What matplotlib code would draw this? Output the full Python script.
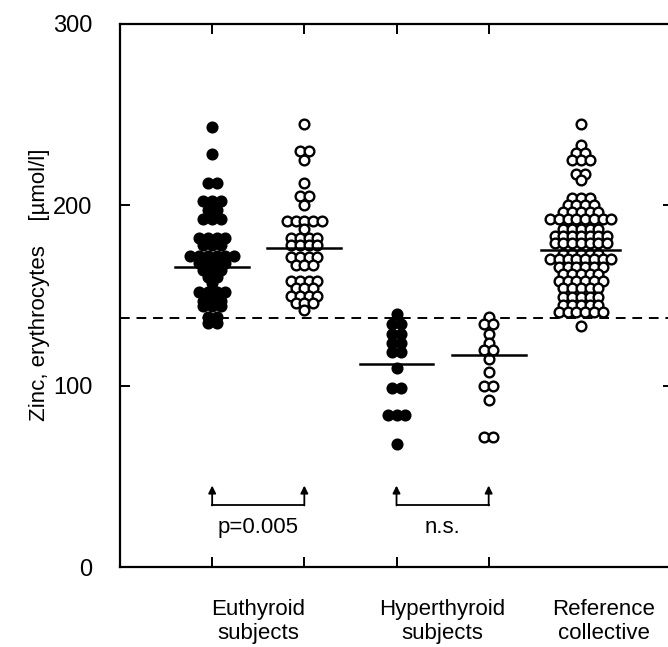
import numpy as np
import matplotlib
matplotlib.use("Agg")
import matplotlib.pyplot as plt

plt.rcParams['font.family'] = ['Liberation Sans', 'DejaVu Sans']

# values: row value and number of dots in that row
eu_f_vals = [243, 228, 212, 202, 197, 192, 182, 178, 172, 168, 164, 160, 157, 152, 147, 144, 138, 135]
eu_f_counts = [1, 1, 2, 3, 2, 3, 4, 3, 6, 4, 3, 2, 1, 4, 3, 3, 2, 2]

eu_o_vals = [245, 230, 225, 212, 205, 200, 191, 187, 182, 178, 171, 167, 158, 154, 150, 146, 142]
eu_o_counts = [1, 2, 1, 1, 2, 1, 5, 1, 4, 4, 4, 3, 4, 3, 4, 3, 1]

hy_f_vals = [140, 134, 129, 124, 119, 110, 99, 84, 68]
hy_f_counts = [1, 2, 2, 2, 2, 1, 2, 3, 1]

hy_o_vals = [138, 134, 129, 124, 120, 115, 108, 100, 92, 72]
hy_o_counts = [1, 2, 1, 1, 2, 1, 1, 2, 1, 2]

ref_vals = [245, 233, 229, 225, 217, 214, 204, 200, 196, 192, 187, 183, 179,
            173, 170, 166, 162, 158, 154, 149, 145, 141, 133]
ref_counts = [1, 1, 2, 3, 2, 1, 3, 4, 5, 8, 5, 7, 7, 5, 8, 6, 5, 6, 5, 5, 5, 6, 1]

means = [166, 176, 112, 117, 175]
ref_line = 137.5

groups = ["Euthyroid\nsubjects", "Hyperthyroid\nsubjects", "Reference\ncollective"]
group_x = [1.5, 3.5, 5.25]


def swarm(vals, counts, x0, step=0.095):
    xs, ys = [], []
    for v, c in zip(vals, counts):
        offs = (np.arange(c) - (c - 1) / 2) * step
        xs += list(x0 + offs)
        ys += [v] * c
    return xs, ys


fig = plt.figure(figsize=(6.68, 6.47), dpi=100)
ax = fig.add_axes([120 / 668, 80 / 647, 553 / 668, 543 / 647])

series = [(eu_f_vals, eu_f_counts, 1, True),
          (eu_o_vals, eu_o_counts, 2, False),
          (hy_f_vals, hy_f_counts, 3, True),
          (hy_o_vals, hy_o_counts, 4, False),
          (ref_vals, ref_counts, 5, False)]

for vals, cnts, x0, filled in series:
    xs, ys = swarm(vals, cnts, x0)
    ax.plot(xs, ys, 'o', ms=7.0, mfc='black' if filled else 'white',
            mec='black', mew=1.7, ls='none', zorder=3)

for i, m in enumerate(means):
    w = 0.43 if i == 4 else 0.4
    ax.plot([i + 1 - w, i + 1 + w], [m, m], color='black', lw=1.8, zorder=4)

ax.axhline(ref_line, color='black', lw=1.4, ls=(0, (5, 3.5)), zorder=2)

# brackets with arrows
for xa, xb, label in [(1, 2, "p=0.005"), (3, 4, "n.s.")]:
    ax.plot([xa, xb], [34, 34], color='black', lw=1.3)
    for xx in (xa, xb):
        ax.annotate('', xy=(xx, 45), xytext=(xx, 34),
                    arrowprops=dict(arrowstyle='-|>', color='black', lw=1.3,
                                    mutation_scale=11, shrinkA=0, shrinkB=0))
    ax.text((xa + xb) / 2, 22, label, ha='center', va='center', fontsize=16)

ax.set_xlim(0, 6)
ax.set_ylim(0, 300)
ax.set_yticks([0, 100, 200, 300])
ax.set_xticks([1, 2, 3, 4])
ax.set_xticklabels([])
ax.tick_params(axis='both', direction='in', length=7, width=1.4,
               top=True, right=True, labelsize=17, pad=20)
ax.tick_params(axis='x', pad=4)
for s in ax.spines.values():
    s.set_linewidth(1.6)

for gx, g in zip(group_x, groups):
    ax.text(gx, -0.1, g, transform=ax.get_xaxis_transform(),
            ha='center', va='center', fontsize=16, linespacing=1.2)

ax.set_ylabel("Zinc, erythrocytes    [\u00b5mol/l]", fontsize=16)
ax.yaxis.set_label_coords(-0.127, 0.52)

fig.savefig("out.png", dpi=100)
